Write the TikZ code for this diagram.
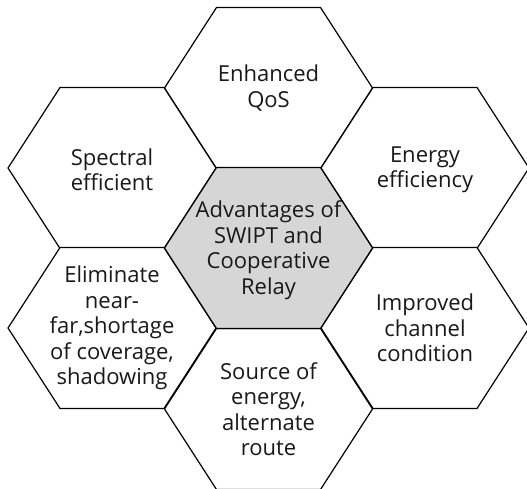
\documentclass[tikz,border=0pt]{standalone}
\usepackage{fontspec}
\setmainfont{Open Sans}

\tikzset{
  hexcell/.style={draw=black, line width=1.2pt, line join=miter, fill=white},
  hexlabel/.style={align=center, text=black!90, inner sep=0pt, font=\fontsize{22}{25.5}\selectfont},
}

\begin{document}
\begin{tikzpicture}[x=1pt,y=1pt]
            % Canvas
            \useasboundingbox (0,0) rectangle (527,489);

            % Outer cells
            \draw[hexcell] (268.5,401) ++(-104,0) -- ++(52,80.5) -- ++(104,0) -- ++(52,-80.5) -- ++(-52,-80.5) -- ++(-104,0) -- cycle;
            \draw[hexcell] (112,321) ++(-104,0) -- ++(52,80.5) -- ++(104,0) -- ++(52,-80.5) -- ++(-52,-80.5) -- ++(-104,0) -- cycle;
            \draw[hexcell] (425,321) ++(-104,0) -- ++(52,80.5) -- ++(104,0) -- ++(52,-80.5) -- ++(-52,-80.5) -- ++(-104,0) -- cycle;
            \draw[hexcell] (112,161) ++(-104,0) -- ++(52,80.5) -- ++(104,0) -- ++(52,-80.5) -- ++(-52,-80.5) -- ++(-104,0) -- cycle;
            \draw[hexcell] (425,161) ++(-104,0) -- ++(52,80.5) -- ++(104,0) -- ++(52,-80.5) -- ++(-52,-80.5) -- ++(-104,0) -- cycle;
            \draw[hexcell] (268.5,80) ++(-104,0) -- ++(52,80.5) -- ++(104,0) -- ++(52,-80.5) -- ++(-52,-80.5) -- ++(-104,0) -- cycle;

            % Centre cell
            \draw[hexcell, fill=black!16] (268.5,241) ++(-104,0) -- ++(52,80.5) -- ++(104,0) -- ++(52,-80.5) -- ++(-52,-80.5) -- ++(-104,0) -- cycle;

            % Labels
            \node[hexlabel] (advantages) at (268.5,239) {Advantages of\\SWIPT and\\Cooperative\\Relay};
            \node[hexlabel] (qos) at (268.5,401) {Enhanced\\QoS};
            \node[hexlabel] (spectral) at (112,319) {Spectral\\efficient};
            \node[hexlabel] (energy) at (425,319) {Energy\\efficiency};
            \node[hexlabel] (nearfar) at (112,161) {Eliminate\\near-\\far,shortage\\of coverage,\\shadowing};
            \node[hexlabel] (channel) at (425,161) {Improved\\channel\\condition};
            \node[hexlabel] (source) at (268.5,80) {Source of\\energy,\\alternate\\route};
        \end{tikzpicture}
\end{document}
